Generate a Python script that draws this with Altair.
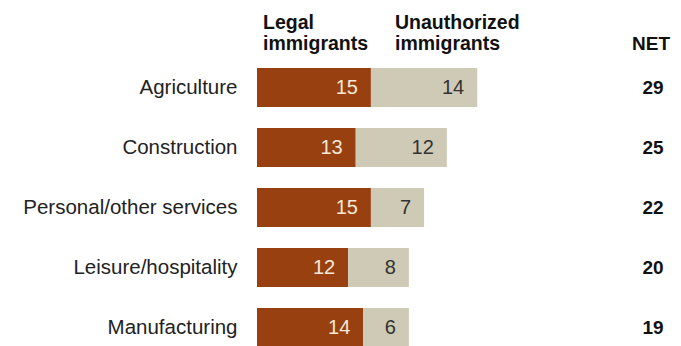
import altair as alt
import pandas as pd

industries = ["Agriculture", "Construction", "Personal/other services", "Leisure/hospitality", "Manufacturing"]
legal = [15, 13, 15, 12, 14]
unauthorized = [14, 12, 7, 8, 6]
net = [29, 25, 22, 20, 19]

FONT = "Liberation Sans"
BROWN = "#98400F"
BEIGE = "#CFCAB5"

rows = []
for ind, l, u, n in zip(industries, legal, unauthorized, net):
    rows.append({"industry": ind, "group": "Legal", "start": 0, "end": l, "value": l, "net": n})
    rows.append({"industry": ind, "group": "Unauthorized", "start": l, "end": l + u, "value": u, "net": n})
df = pd.DataFrame(rows)
net_df = pd.DataFrame({"industry": industries, "net": net})

x_scale = alt.Scale(domain=[0, 55.7], nice=False, zero=True)
y_scale = alt.Scale(domain=industries, paddingInner=0.35, paddingOuter=0.075, align=1)

y_enc = alt.Y("industry:N", scale=y_scale, sort=industries,
              axis=alt.Axis(title=None, domain=False, ticks=False, labelPadding=20,
                            labelFont=FONT, labelFontSize=20.5, labelColor="#222",
                            labelLimit=300))

bars = alt.Chart(df).mark_bar().encode(
    x=alt.X("start:Q", scale=x_scale, axis=None),
    x2="end:Q",
    y=y_enc,
    color=alt.Color("group:N", scale=alt.Scale(domain=["Legal", "Unauthorized"], range=[BROWN, BEIGE]), legend=None),
)

labels = alt.Chart(df).mark_text(align="right", baseline="middle", dx=-13, font=FONT, fontSize=20).encode(
    x=alt.X("end:Q", scale=x_scale),
    y=alt.Y("industry:N", scale=y_scale, sort=industries),
    text="value:Q",
    color=alt.Color("group:N", scale=alt.Scale(domain=["Legal", "Unauthorized"], range=["#F6E8D6", "#333333"]), legend=None),
)

net_text = alt.Chart(net_df).mark_text(align="center", baseline="middle", font=FONT, fontSize=19,
                                       fontWeight="bold", color="#111").encode(
    x=alt.value(396),
    y=alt.Y("industry:N", scale=y_scale, sort=industries),
    text="net:Q",
)

headers_df = pd.DataFrame({
    "label": ["Legal", "immigrants", "Unauthorized", "immigrants", "NET"],
    "hx": [6, 6, 138, 138, 394],
    "hy": [-30, -9, -30, -9, -9],
})

hdr_left = alt.Chart(headers_df.iloc[:4]).mark_text(align="left", baseline="alphabetic", font=FONT,
                                                   fontSize=19.5, fontWeight="bold", color="#111").encode(
    x=alt.X("hx:Q", scale=None),
    y=alt.Y("hy:Q", scale=None),
    text="label:N",
)
hdr_net = alt.Chart(headers_df.iloc[4:]).mark_text(align="center", baseline="alphabetic", font=FONT,
                                                  fontSize=19, fontWeight="bold", color="#111").encode(
    x=alt.X("hx:Q", scale=None),
    y=alt.Y("hy:Q", scale=None),
    text="label:N",
)

chart = alt.layer(bars, labels, net_text, hdr_left, hdr_net).resolve_scale(color="independent").properties(
    width=423, height=288,
    padding={"left": 257, "top": 59, "right": 0, "bottom": 0},
    autosize=alt.AutoSizeParams(type="none"),
    background="white",
).configure_view(stroke=None)

chart.save("out.html", embed_options={"renderer": "svg", "actions": False})
